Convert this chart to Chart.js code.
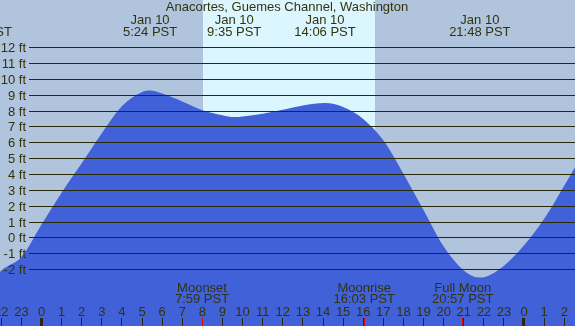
<!DOCTYPE html>
<html>
<head>
<meta charset="utf-8">
<script src="https://cdn.jsdelivr.net/npm/chart.js@4/dist/chart.umd.min.js"></script>
<style>
html,body{margin:0;padding:0;background:#b0c4de;}
#c{display:block;}
</style>
</head>
<body>
<canvas id="c" width="575" height="326"></canvas>
<script>
// ---- data ----
const title = "Anacortes, Guemes Channel, Washington";
const tideHours = [-2.07, -2, -1, 0, 1, 2, 3, 4, 5, 5.4, 6, 7, 8, 9, 9.58, 10, 11, 12, 13, 14.1, 15, 16, 17, 18, 19, 20, 21, 21.8, 22, 23, 24, 25, 26, 26.55];
const tideFeet  = [-2.15, -2.05, -1.2, 0.85, 2.85, 4.7, 6.6, 8.3, 9.2, 9.3, 9.1, 8.6, 8.05, 7.74, 7.62, 7.66, 7.83, 8.08, 8.35, 8.5, 8.25, 7.5, 6.15, 4.05, 1.75, -0.55, -2.05, -2.5, -2.48, -1.75, -0.47, 1.2, 3.3, 4.5];
const extremeHours = [-3.0, 5.4, 9.583, 14.1, 21.8];
const extremeDates = ["Jan 9", "Jan 10", "Jan 10", "Jan 10", "Jan 10"];
const extremeTimes = ["21:00 PST", "5:24 PST", "9:35 PST", "14:06 PST", "21:48 PST"];
const moonHours = [7.983, 16.05, 20.95];
const moonNames = ["Moonset", "Moonrise", "Full Moon"];
const moonTimes = ["7:59 PST", "16:03 PST", "20:57 PST"];
const hourTicks = [-2,-1,0,1,2,3,4,5,6,7,8,9,10,11,12,13,14,15,16,17,18,19,20,21,22,23,24,25,26];
const hourLabels = ["22","23","0","1","2","3","4","5","6","7","8","9","10","11","12","13","14","15","16","17","18","19","20","21","22","23","0","1","2"];
const feetTicks = [-2,-1,0,1,2,3,4,5,6,7,8,9,10,11,12];
const sunrise = 8.03, sunset = 16.585;

const BG = '#b0c4de', DAY = '#dcf6ff', SEA = '#4161d8', INK = '#33330b', LINE = '#2a2a08';
const FONT = '13px "Liberation Sans", Arial, sans-serif';

const decor = {
  id: 'decor',
  beforeDraw(chart) {
    const {ctx, scales:{x}} = chart;
    ctx.save();
    ctx.fillStyle = BG;
    ctx.fillRect(0, 0, chart.width, chart.height);
    const x0 = Math.round(x.getPixelForValue(sunrise));
    const x1 = Math.round(x.getPixelForValue(sunset));
    ctx.fillStyle = DAY;
    ctx.fillRect(x0, 0, x1 - x0, chart.height);
    ctx.restore();
  },
  afterDatasetsDraw(chart) {
    const {ctx, scales:{x, y}} = chart;
    const W = chart.width;
    ctx.save();
    ctx.font = FONT;
    feetTicks.forEach(v => {
      const p = Math.floor(y.getPixelForValue(v));
      ctx.fillStyle = LINE;
      ctx.fillRect(29, p, W - 29, 1);
      ctx.fillStyle = INK;
      ctx.textAlign = 'right';
      ctx.textBaseline = 'alphabetic';
      ctx.fillText(v + ' ft', 26, p + 5);
    });
    ctx.fillStyle = INK;
    ctx.textAlign = 'center';
    ctx.fillText(title, 287, 11);
    extremeHours.forEach((h, i) => {
      const px = x.getPixelForValue(h);
      ctx.fillText(extremeDates[i], px, 24);
      ctx.fillText(extremeTimes[i], px, 36);
    });
    hourTicks.forEach((h, i) => {
      const px = x.getPixelForValue(h);
      ctx.fillStyle = INK;
      ctx.fillText(hourLabels[i], px, 316);
      ctx.fillStyle = LINE;
      if (hourLabels[i] === '0') {
        ctx.fillRect(Math.round(px) - 2, 318, 3, 8);
      } else {
        ctx.fillRect(Math.floor(px), 318, 1, 8);
      }
    });
    moonHours.forEach((h, i) => {
      const px = x.getPixelForValue(h);
      ctx.fillStyle = INK;
      ctx.fillText(moonNames[i], px, 292);
      ctx.fillText(moonTimes[i], px, 303);
      ctx.fillStyle = '#ee0000';
      ctx.fillRect(Math.floor(px), 318, 1, 8);
    });
    ctx.restore();
  }
};

new Chart(document.getElementById('c'), {
  type: 'line',
  data: {
    datasets: [{
      data: tideHours.map((h, i) => ({x: h, y: tideFeet[i]})),
      fill: 'start',
      backgroundColor: SEA,
      borderColor: SEA,
      borderWidth: 0,
      pointRadius: 0,
      cubicInterpolationMode: 'monotone'
    }]
  },
  options: {
    responsive: false,
    devicePixelRatio: 1,
    animation: false,
    layout: {padding: 0},
    plugins: {legend: {display: false}, tooltip: {enabled: false}, title: {display: false}},
    scales: {
      x: {type: 'linear', min: -2.064, max: 26.532, display: false},
      y: {type: 'linear', min: -5.557, max: 15.0, display: false}
    }
  },
  plugins: [decor]
});
</script>
</body>
</html>
